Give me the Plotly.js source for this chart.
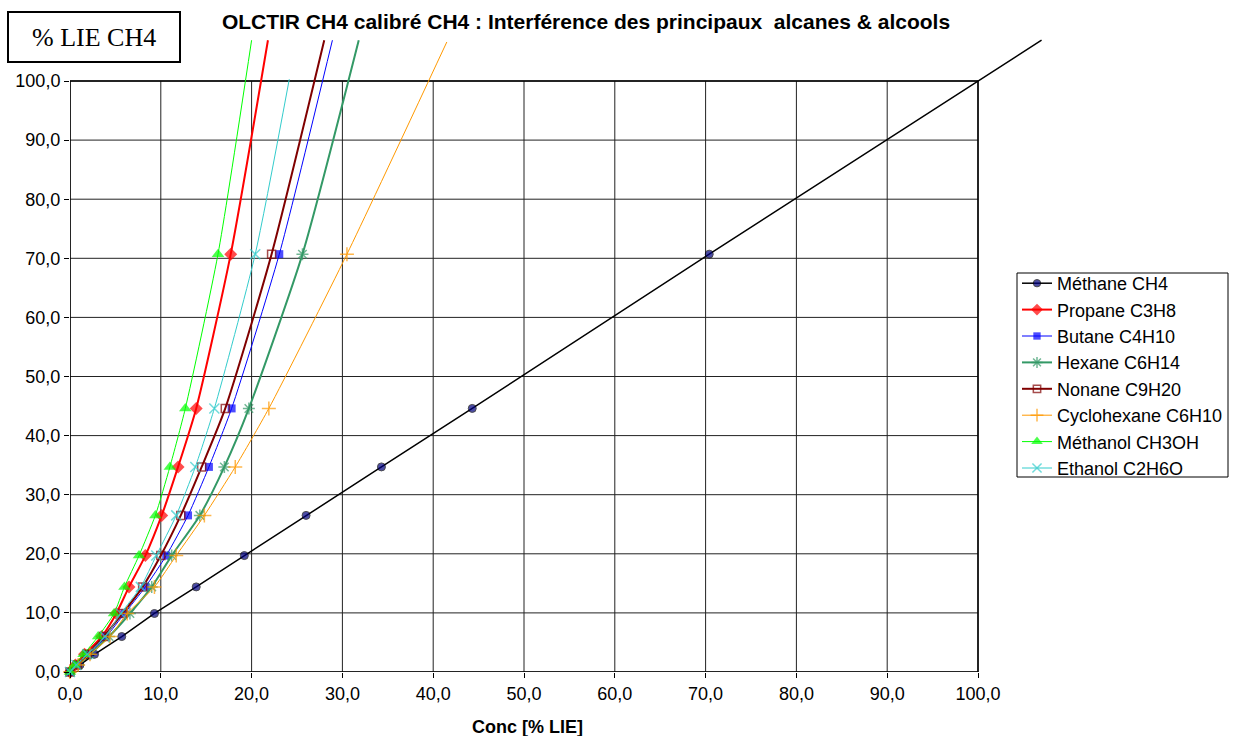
<!DOCTYPE html>
<html><head><meta charset="utf-8">
<script src="https://cdn.plot.ly/plotly-3.0.1.min.js"></script>
<style>html,body{margin:0;padding:0;background:#fff}#chart{width:1240px;height:736px}</style>
</head><body><div id="chart"></div>
<script>
// ---- data ----
const seriesNames = ["Méthane CH4","Propane C3H8","Butane C4H10","Hexane C6H14","Nonane C9H20","Cyclohexane C6H10","Méthanol CH3OH","Ethanol C2H6O"];
const yRead = [0, 1.2, 3.0, 6.0, 9.9, 14.4, 19.7, 26.5, 34.7, 44.6, 70.7];

const methaneX     = [0, 1.1, 2.7, 5.7, 9.3, 13.9, 19.2, 26.0, 34.3, 44.3, 70.4];
const propaneX     = [0, 0.6, 1.6, 3.5, 5.1, 6.5, 8.3, 10.1, 11.9, 13.9, 17.7];
const butaneX      = [0, 0.8, 2.0, 4.0, 6.0, 8.3, 10.6, 13.0, 15.3, 17.8, 23.05];
const hexaneX      = [0, 0.9, 2.2, 4.3, 6.6, 9.0, 11.2, 14.3, 17.0, 19.7, 25.6];
const nonaneX      = [0, 0.8, 1.9, 3.7, 5.8, 8.0, 10.0, 12.2, 14.5, 17.1, 22.2];
const cyclohexaneX = [0, 0.9, 2.2, 4.4, 6.3, 9.3, 11.7, 14.8, 18.2, 21.9, 30.5];
const methanolX    = [0, 0.5, 1.5, 3.1, 4.85, 6.0, 7.6, 9.4, 11.0, 12.7, 16.3];
const ethanolX     = [0, 0.7, 1.9, 3.85, 5.6, 7.8, 9.5, 11.7, 13.8, 15.9, 20.4];

const methaneTopX = [107.0],  methaneTopY = [106.9];
const propaneTopX = [21.8],   propaneTopY = [106.9];
const butaneTopX  = [28.9],   butaneTopY  = [106.9];
const hexaneTopX  = [31.8],   hexaneTopY  = [106.9];
const nonaneTopX  = [28.0],   nonaneTopY  = [106.9];
const cyclohexaneTopX = [41.5], cyclohexaneTopY = [106.6];
const methanolTopX = [20.0],  methanolTopY = [106.9];
const ethanolTopX  = [24.15], ethanolTopY  = [100.3];

const tickValues = [0,10,20,30,40,50,60,70,80,90,100];

// ---- styles ----
const seriesData = [
  [methaneX, methaneTopX, methaneTopY],
  [propaneX, propaneTopX, propaneTopY],
  [butaneX, butaneTopX, butaneTopY],
  [hexaneX, hexaneTopX, hexaneTopY],
  [nonaneX, nonaneTopX, nonaneTopY],
  [cyclohexaneX, cyclohexaneTopX, cyclohexaneTopY],
  [methanolX, methanolTopX, methanolTopY],
  [ethanolX, ethanolTopX, ethanolTopY]
];
const styles = [
  {line:'#000000', lw:1.5, sym:'circle', fill:'#000080', mlc:'#000000', mlw:1, size:8},
  {line:'#FF0000', lw:2, sym:'diamond', fill:'#FF0000', mlc:'#FF0000', mlw:0, size:10},
  {line:'#0000FF', lw:1, sym:'square', fill:'#0000FF', mlc:'#0000FF', mlw:0, size:8},
  {line:'#339966', lw:2, sym:'asterisk-open', fill:'#339966', mlc:'#339966', mlw:1.5, size:10},
  {line:'#800000', lw:2, sym:'square-open', fill:'#800000', mlc:'#800000', mlw:1.5, size:8},
  {line:'#FF9900', lw:1, sym:'cross-thin-open', fill:'#FF9900', mlc:'#FF9900', mlw:1.5, size:10},
  {line:'#00FF00', lw:1, sym:'triangle-up', fill:'#00FF00', mlc:'#00FF00', mlw:0, size:11},
  {line:'#33CCCC', lw:1, sym:'x-thin-open', fill:'#33CCCC', mlc:'#33CCCC', mlw:1.5, size:10}
];

const traces = seriesNames.map((name, i) => {
  const [xs, tx, ty] = seriesData[i];
  const st = styles[i];
  const x = xs.concat(tx);
  const y = yRead.concat(ty);
  const sizes = xs.map(() => st.size).concat(tx.map(() => 0));
  return {
    type: 'scatter', mode: 'lines+markers', name: name,
    x: x, y: y, cliponaxis: false,
    line: {color: st.line, width: st.lw, shape: i === 0 ? 'linear' : 'spline', smoothing: 0.6},
    marker: {symbol: st.sym, size: sizes, color: st.fill, line: {color: st.mlc, width: st.mlw}}
  };
});

// pixel -> paper helpers (plot area: x 70..1044, y 38..672)
const PL = 70, PR = 1044, PT = 38, PB = 672;
const xp = px => (px - PL) / (PR - PL);
const yp = py => (PB - py) / (PB - PT);

const axisFont = {family: 'Arial, "Liberation Sans", sans-serif', size: 18, color: '#000'};

// gridlines limited to the 0..100 frame
const gridShapes = [];
tickValues.forEach(v => {
  gridShapes.push({type: 'line', xref: 'x', yref: 'y', x0: v, x1: v, y0: 0, y1: 100,
                   line: {color: '#222', width: 1}, layer: 'below'});
  gridShapes.push({type: 'line', xref: 'x', yref: 'y', x0: 0, x1: 100, y0: v, y1: v,
                   line: {color: '#222', width: 1}, layer: 'below'});
});

const layout = {
  width: 1240, height: 736,
  margin: {l: PL, r: 1240 - PR, t: PT, b: 736 - PB, pad: 0},
  paper_bgcolor: '#fff', plot_bgcolor: '#fff',
  separators: ', ',
  showlegend: true,
  font: axisFont,
  title: {
    text: 'OLCTIR CH4 calibré CH4 : Interférence des principaux  alcanes & alcools',
    x: 586 / 1240, xref: 'container', xanchor: 'center',
    y: 1 - 22 / 736, yref: 'container', yanchor: 'middle',
    font: {family: 'Arial, "Liberation Sans", sans-serif', size: 21, weight: 'bold', color: '#000'}
  },
  xaxis: {
    range: [0, (PR - PL) / 9.08], tickvals: tickValues, tickformat: '.1f',
    showgrid: false, zeroline: false, showline: false,
    ticks: 'outside', ticklen: 5, tickcolor: '#000', tickfont: axisFont
  },
  yaxis: {
    range: [0, (PB - PT) / 5.91], tickvals: tickValues, tickformat: '.1f',
    showgrid: false, zeroline: false, showline: false,
    ticks: 'outside', ticklen: 5, tickcolor: '#000', tickfont: axisFont
  },
  legend: {
    x: xp(1017), y: yp(265), xanchor: 'left', yanchor: 'top',
    bgcolor: 'rgba(0,0,0,0)', borderwidth: 0,
    font: {family: 'Arial, "Liberation Sans", sans-serif', size: 18, color: '#000'},
    tracegroupgap: 0, itemwidth: 30
  },
  shapes: gridShapes.concat([
    {type: 'rect', xref: 'x', yref: 'y', x0: 0, y0: 0, x1: 100, y1: 100,
     line: {color: '#000', width: 1.5}, layer: 'below'},
    {type: 'rect', xref: 'paper', yref: 'paper', x0: xp(1017), x1: xp(1228), y0: yp(477), y1: yp(273),
     line: {color: '#000', width: 1}, fillcolor: '#fff', layer: 'above'},
    {type: 'rect', xref: 'paper', yref: 'paper', x0: xp(8), x1: xp(180), y0: yp(62), y1: yp(12),
     line: {color: '#000', width: 2}, fillcolor: '#fff'}
  ]),
  annotations: [
    {xref: 'paper', yref: 'paper', x: xp(94), y: yp(37), xanchor: 'center', yanchor: 'middle',
     text: '% LIE CH4', showarrow: false,
     font: {family: '"Times New Roman", "Liberation Serif", serif', size: 26, color: '#000'}},
    {xref: 'paper', yref: 'paper', x: xp(527), y: yp(727), xanchor: 'center', yanchor: 'middle',
     text: 'Conc [% LIE]', showarrow: false,
     font: {family: 'Arial, "Liberation Sans", sans-serif', size: 18, weight: 'bold', color: '#000'}}
  ]
};

Plotly.newPlot('chart', traces, layout, {displayModeBar: false, staticPlot: true});
</script>
</body></html>
